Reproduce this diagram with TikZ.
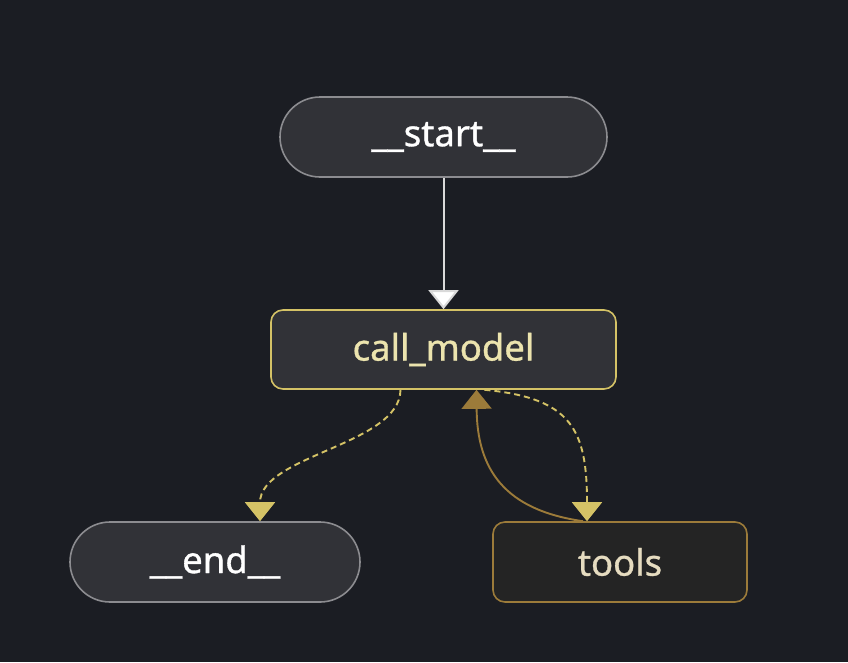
\documentclass[tikz,border=0pt]{standalone}
\usepackage{fontspec}
\setmainfont{Noto Sans}
\newfontfamily\labfont{Noto Sans}[FakeBold=0.9]
\usetikzlibrary{arrows.meta}
\definecolor{bg}{HTML}{1B1D23}
\definecolor{nodefill}{HTML}{313237}
\definecolor{greyedge}{HTML}{8C8C90}
\definecolor{yel}{HTML}{D4C266}
\definecolor{yeltext}{HTML}{ECE4AE}
\definecolor{brown}{HTML}{9C7B3A}
\definecolor{toolfill}{HTML}{242424}
\definecolor{tooltext}{HTML}{E6DCC0}
\tikzset{
  labelfont/.style={font=\labfont\fontsize{36.5}{40}\selectfont},
  pill/.style={draw=greyedge, line width=1.6pt, fill=nodefill, rounded corners=40pt, minimum height=80pt, text=white, labelfont, inner sep=0pt},
  modelbox/.style={draw=yel, line width=1.6pt, fill=nodefill, rounded corners=12pt, minimum height=79pt, minimum width=345pt, text=yeltext, labelfont, inner sep=0pt},
  toolbox/.style={draw=brown, line width=1.6pt, fill=toolfill, rounded corners=12pt, minimum height=80pt, minimum width=254pt, text=tooltext, labelfont, inner sep=0pt},
  dashedge/.style={draw=yel, line width=1.9pt, dash pattern=on 6pt off 4pt, -{Triangle[width=30pt,length=19pt,fill=yel,sep=0pt]}},
  solidedge/.style={draw=brown, line width=1.9pt, -{Triangle[width=30pt,length=19pt,fill=brown]}},
  whiteedge/.style={draw=white!85!black, line width=2pt, -{Triangle[width=30pt,length=19pt,fill=white]}}
}
\begin{document}
\begin{tikzpicture}[x=1pt,y=-1pt]
\fill[bg] (0,0) rectangle (848,662);
\useasboundingbox (0,0) rectangle (848,662);
\node[pill, minimum width=327pt] (start) at (443.5,137) {\_\_start\_\_};
\node[modelbox] (model) at (443.5,349.5) {call\_model};
\node[pill, minimum width=290pt] (end) at (215,562) {\_\_end\_\_};
\node[toolbox] (tools) at (620,562) {tools};
\draw[whiteedge] (start.south) -- (model.north);
\coordinate (m1) at ([xshift=-43pt]model.south);
\coordinate (e1) at ([xshift=45pt]end.north);
\draw[dashedge] (m1) .. controls (400,445) and (260,455) .. (e1);
\coordinate (m2) at ([xshift=41pt]model.south);
\coordinate (t1) at ([xshift=-33pt]tools.north);
\draw[dashedge] (m2) .. controls (572,398) and (587,430) .. (t1);
\coordinate (t2) at ([xshift=-37pt]tools.north);
\coordinate (m3) at ([xshift=33pt]model.south);
\draw[solidedge] (t2) .. controls (505,510) and (477,470) .. (m3);
\end{tikzpicture}
\end{document}
